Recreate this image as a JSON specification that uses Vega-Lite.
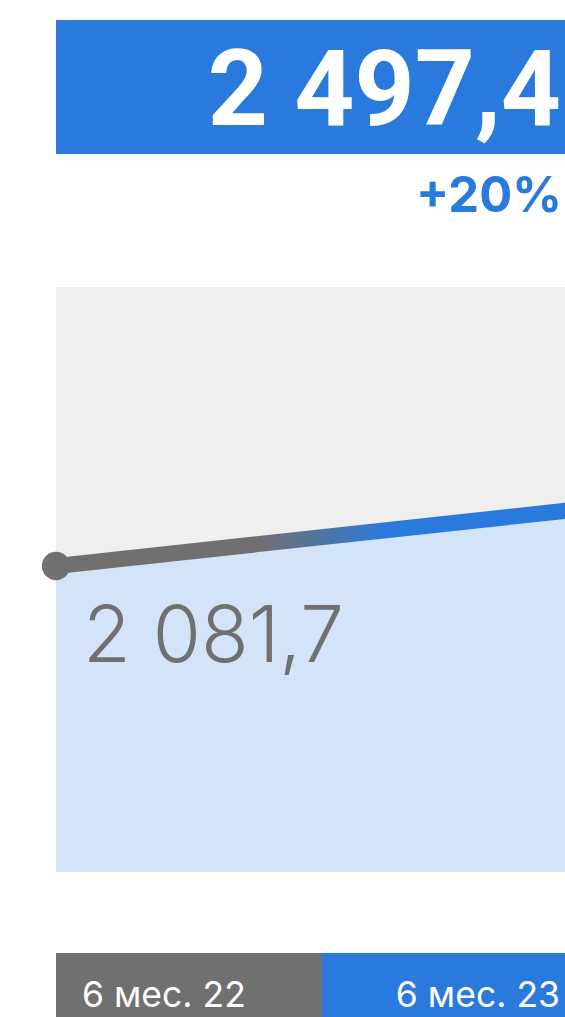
{
  "$schema": "https://vega.github.io/schema/vega-lite/v6.json",
  "padding": {"left": 41, "top": 20, "right": 0, "bottom": 0},
  "background": "#ffffff",
  "config": {"view": {"stroke": null}, "font": "Inter"},
  "datasets": {
    "points": [
      {"t": 0, "value": 2081.7, "label": "2 081,7", "period": "6 мес. 22"},
      {"t": 1, "value": 2497.4, "label": "2 497,4", "change": "+20%", "period": "6 мес. 23"}
    ],
    "bands": [
      {"period": "6 мес. 22", "start": 0, "end": 0.5},
      {"period": "6 мес. 23", "start": 0.5, "end": 1}
    ]
  },
  "spacing": 81,
  "vconcat": [
    {
      "spacing": 0,
      "vconcat": [
        {
          "width": 509,
          "height": 134,
          "view": {"fill": "#2A79DC", "stroke": null},
          "data": {"name": "points"},
          "transform": [{"filter": "datum.t == 1"}],
          "mark": {"type": "text", "align": "right", "baseline": "alphabetic", "dx": -27, "dy": 38, "fontSize": 105, "fontWeight": 700, "color": "#ffffff", "font": "Roboto"},
          "encoding": {
            "x": {"field": "t", "type": "quantitative", "scale": {"domain": [0, 0.9568], "nice": false}, "axis": null},
            "text": {"field": "label"}
          }
        },
        {
          "width": 509,
          "height": 133,
          "data": {"name": "points"},
          "transform": [{"filter": "datum.t == 1"}],
          "mark": {"type": "text", "align": "right", "baseline": "alphabetic", "dx": -26, "dy": -8.5, "fontSize": 49, "fontWeight": 700, "color": "#2A79DC", "font": "Inter"},
          "encoding": {
            "x": {"field": "t", "type": "quantitative", "scale": {"domain": [0, 0.9568], "nice": false}, "axis": null},
            "text": {"field": "change"}
          }
        },
        {
          "width": 509,
          "height": 585,
          "view": {"fill": "#EFEFEF", "stroke": null},
          "data": {"name": "points"},
          "encoding": {
            "x": {"field": "t", "type": "quantitative", "scale": {"domain": [0, 0.9025], "nice": false}, "axis": null},
            "y": {"field": "value", "type": "quantitative", "scale": {"domain": [0, 3980], "nice": false}, "axis": null}
          },
          "layer": [
            {"mark": {"type": "area", "color": "#D3E4F8", "clip": true, "opacity": 1}},
            {"mark": {"type": "line", "clip": true, "strokeWidth": 16, "strokeCap": "butt",
              "stroke": {"gradient": "linear", "x1": 0, "y1": 0, "x2": 1, "y2": 0,
                "stops": [
                  {"offset": 0, "color": "#707070"},
                  {"offset": 0.36, "color": "#707070"},
                  {"offset": 0.59, "color": "#2A79DC"},
                  {"offset": 1, "color": "#2A79DC"}
                ]}}},
            {"transform": [{"filter": "datum.t == 0"}],
             "mark": {"type": "point", "filled": true, "size": 800, "color": "#707070", "opacity": 1}},
            {"transform": [{"filter": "datum.t == 0"}],
             "mark": {"type": "text", "align": "left", "baseline": "alphabetic", "dx": 27, "dy": 96, "fontSize": 78, "fontWeight": 300, "color": "#707070", "font": "Inter"},
             "encoding": {"text": {"field": "label"}}}
          ]
        }
      ]
    },
    {
      "width": 509,
      "height": 64,
      "data": {"name": "bands"},
      "encoding": {
        "x": {"field": "start", "type": "quantitative", "scale": {"domain": [0, 0.9568], "nice": false}, "axis": null}
      },
      "layer": [
        {"mark": {"type": "rect", "clip": true},
         "encoding": {
           "x2": {"field": "end"},
           "color": {"field": "period", "type": "nominal", "scale": {"domain": ["6 мес. 22", "6 мес. 23"], "range": ["#707070", "#2A79DC"]}, "legend": null}
         }},
        {"transform": [{"filter": "datum.start == 0"}],
         "mark": {"type": "text", "align": "left", "baseline": "alphabetic", "dx": 26, "dy": 21.7, "fontSize": 35.5, "fontWeight": 400, "color": "#ffffff", "font": "Inter"},
         "encoding": {"text": {"field": "period"}}},
        {"transform": [{"filter": "datum.start == 0.5"}],
         "mark": {"type": "text", "align": "right", "baseline": "alphabetic", "dx": -28, "dy": 21.7, "fontSize": 35.5, "fontWeight": 400, "color": "#ffffff", "font": "Inter"},
         "encoding": {"x": {"field": "end", "type": "quantitative"}, "text": {"field": "period"}}}
      ]
    }
  ]
}
